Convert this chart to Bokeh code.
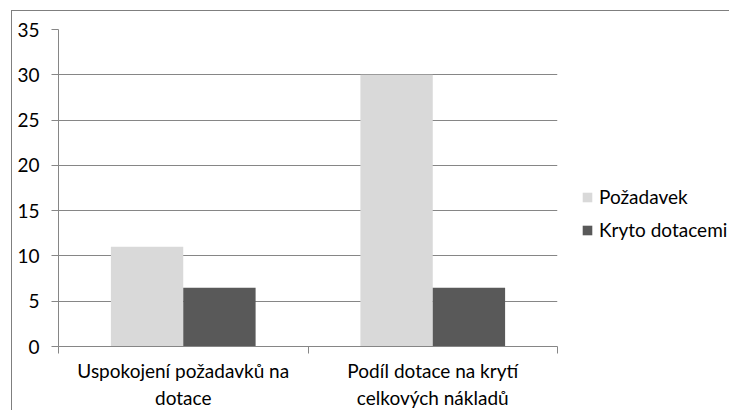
from bokeh.plotting import figure
from bokeh.models import ColumnDataSource, FixedTicker, Legend, LegendItem
from bokeh.embed import file_html
from bokeh.resources import INLINE

categories = ["Uspokojení požadavků na\ndotace", "Podíl dotace na krytí\ncelkových nákladů"]
series_names = ["Požadavek", "Kryto dotacemi"]
pozadavek = [11, 30]
kryto = [6.5, 6.5]
y_ticks = [0, 5, 10, 15, 20, 25, 30, 35]

colors = ["#D9D9D9", "#595959"]
FONT = "Lato"
FS = "19px"
GRAY = "#868686"

idx = list(range(len(categories)))
centers = [i + 0.5 for i in idx]

p = figure(frame_width=499, frame_height=317, output_backend="svg", toolbar_location=None,
           x_range=(0, len(categories)), y_range=(0, 35),
           min_border_left=46, min_border_right=172,
           min_border_top=18, min_border_bottom=64)
p.styles = {"margin-left": "11px", "margin-top": "10px",
            "border-left": "1px solid #7f7f7f", "border-top": "1px solid #7f7f7f"}
p.outline_line_color = None
p.background_fill_color = "white"
p.border_fill_color = "white"

offset = 0.145
bw = 0.29
src1 = ColumnDataSource(dict(x=[c - offset for c in centers], top=pozadavek))
src2 = ColumnDataSource(dict(x=[c + offset for c in centers], top=kryto))
r1 = p.vbar(x="x", top="top", width=bw, source=src1, fill_color=colors[0], line_color=None)
r2 = p.vbar(x="x", top="top", width=bw, source=src2, fill_color=colors[1], line_color=None)

# y axis
p.yaxis.ticker = FixedTicker(ticks=y_ticks)
p.yaxis.axis_line_color = GRAY
p.yaxis.major_tick_line_color = GRAY
p.yaxis.major_tick_out = 7
p.yaxis.major_tick_in = 0
p.yaxis.minor_tick_line_color = None
p.yaxis.major_label_standoff = 12
p.yaxis.major_label_text_font = FONT
p.yaxis.major_label_text_font_size = FS
p.yaxis.major_label_text_color = "#000000"

# x axis: labels at category centres, ticks at boundaries
p.xaxis.ticker = FixedTicker(ticks=centers, minor_ticks=list(range(len(categories) + 1)))
p.xaxis.major_label_overrides = {c: lab for c, lab in zip(centers, categories)}
p.xaxis.axis_line_color = GRAY
p.xaxis.major_tick_line_color = None
p.xaxis.major_tick_out = 0
p.xaxis.major_tick_in = 0
p.xaxis.minor_tick_line_color = GRAY
p.xaxis.minor_tick_out = 7
p.xaxis.minor_tick_in = 0
p.xaxis.major_label_standoff = 5
p.xaxis.major_label_text_font = FONT
p.xaxis.major_label_text_font_size = FS
p.xaxis.major_label_text_color = "#000000"
p.xaxis.major_label_text_line_height = 1.2

p.xgrid.grid_line_color = None
p.ygrid.ticker = FixedTicker(ticks=y_ticks)
p.ygrid.grid_line_color = GRAY

legend = Legend(items=[LegendItem(label=series_names[0], renderers=[r1]),
                       LegendItem(label=series_names[1], renderers=[r2])],
                location=(24, 105), orientation="vertical")
legend.border_line_color = None
legend.background_fill_alpha = 0
legend.glyph_width = 12
legend.glyph_height = 12
legend.label_standoff = 6
legend.label_height = 22
legend.spacing = 10
legend.padding = 0
legend.margin = 0
legend.label_text_font = FONT
legend.label_text_font_size = FS
legend.label_text_color = "#000000"
p.add_layout(legend, "right")

open("out.html", "w").write(file_html(p, INLINE))
